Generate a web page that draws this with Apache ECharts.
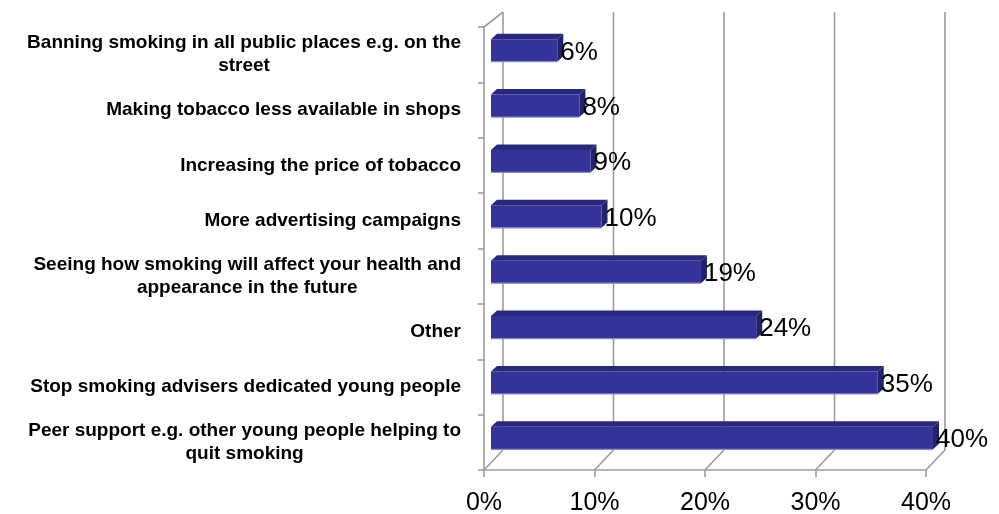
<!DOCTYPE html>
<html>
<head>
<meta charset="utf-8">
<script src="https://cdn.jsdelivr.net/npm/echarts@6.0.0/dist/echarts.min.js"></script>
<style>
  html, body { margin: 0; padding: 0; background: #ffffff; }
  #chart { width: 999px; height: 514px; }
</style>
</head>
<body>
<div id="chart"></div>
<script>
// Survey answers: what would help young people stop smoking
const categories = [
  'Banning smoking in all public places e.g. on the\nstreet',
  'Making tobacco less available in shops',
  'Increasing the price of tobacco',
  'More advertising campaigns',
  'Seeing how smoking will affect your health and\nappearance in the future',
  'Other',
  'Stop smoking advisers dedicated young people',
  'Peer support e.g. other young people helping to\nquit smoking'
];
const shares = [6, 8, 9, 10, 19, 24, 35, 40];
const xTicks = [0, 10, 20, 30, 40];

// pseudo-3D depth of the plot box (pixels)
const DEPTH_X = 19;
const DEPTH_Y_BOTTOM = -20;
const DEPTH_Y_TOP = -15;
// bar block offsets
const BAR_SHIFT_X = 7;
const BAR_DX = 6;
const BAR_DY = -5.5;

const FONT = '"Liberation Sans", Arial, sans-serif';
const wallStyle = { stroke: '#9c9c9c', lineWidth: 1.6, fill: null };

function renderWall(params, api) {
  const v = api.value(0);
  const cs = params.coordSys;
  const fx = api.coord([v, 0])[0];
  const bottom = cs.y + cs.height;
  const top = cs.y;
  const bx = fx + DEPTH_X;
  const children = [
    { type: 'line', shape: { x1: fx, y1: bottom, x2: bx, y2: bottom + DEPTH_Y_BOTTOM }, style: wallStyle },
    { type: 'line', shape: { x1: bx, y1: bottom + DEPTH_Y_BOTTOM, x2: bx, y2: top + DEPTH_Y_TOP }, style: wallStyle }
  ];
  if (v === xTicks[0]) {
    children.push({ type: 'line', shape: { x1: cs.x, y1: top, x2: bx, y2: top + DEPTH_Y_TOP }, style: wallStyle });
  }
  return { type: 'group', children };
}

function renderBar(params, api) {
  const v = api.value(0);
  const c = api.value(1);
  const start = api.coord([0, c]);
  const end = api.coord([v, c]);
  const cy = start[1];
  const L = start[0] + BAR_SHIFT_X;
  const R = end[0] + BAR_SHIFT_X;
  const T = cy - 15.5;
  const B = cy + 7;
  return {
    type: 'group',
    children: [
      { type: 'polygon', shape: { points: [[L, T], [L + BAR_DX, T + BAR_DY], [R + BAR_DX, T + BAR_DY], [R, T]] },
        style: { fill: '#28287a' } },
      { type: 'polygon', shape: { points: [[R, T], [R + BAR_DX, T + BAR_DY], [R + BAR_DX, B + BAR_DY], [R, B]] },
        style: { fill: '#222268' } },
      { type: 'rect', shape: { x: L, y: T, width: R - L, height: B - T },
        style: { fill: '#333399' } },
      { type: 'line', shape: { x1: L, y1: B, x2: R, y2: B },
        style: { stroke: '#8a8ac8', lineWidth: 1.2 } },
      { type: 'text', style: {
          text: v + '%', x: R + 3, y: (T + B) / 2 + 2,
          align: 'left', verticalAlign: 'middle',
          fontSize: 26, fontFamily: FONT, fill: '#000000'
        } }
    ]
  };
}

const chart = echarts.init(document.getElementById('chart'));
chart.setOption({
  backgroundColor: '#ffffff',
  animation: false,
  grid: { left: 484, top: 27, width: 442, height: 443, containLabel: false, outerBoundsMode: 'none' },
  xAxis: {
    type: 'value',
    min: 0, max: 40, interval: 10,
    splitLine: { show: false },
    axisLine: { show: true, lineStyle: { color: '#9c9c9c', width: 1.6 } },
    axisTick: { show: true, length: 7, lineStyle: { color: '#9c9c9c', width: 1.6 } },
    axisLabel: {
      formatter: '{value}%', fontSize: 25, color: '#000000', margin: 21,
      fontFamily: FONT
    }
  },
  yAxis: {
    type: 'category',
    inverse: true,
    data: categories,
    axisLine: { show: true, lineStyle: { color: '#9c9c9c', width: 1.6 } },
    axisTick: { show: true, length: 6, lineStyle: { color: '#9c9c9c', width: 1.6 } },
    splitLine: { show: false },
    axisLabel: {
      margin: 23,
      formatter: (val) => val.split('\n').map(s => '{c|' + s + '}').join('\n'),
      rich: {
        c: {
          align: 'center', fontSize: 19, lineHeight: 23, fontWeight: 'bold', color: '#000000',
          fontFamily: FONT
        }
      }
    }
  },
  series: [
    {
      type: 'custom',
      name: 'walls',
      silent: true,
      clip: false,
      z: 1,
      renderItem: renderWall,
      encode: { x: 0 },
      data: xTicks.map(t => [t])
    },
    {
      type: 'custom',
      name: 'share',
      clip: false,
      z: 3,
      renderItem: renderBar,
      encode: { x: 0, y: 1 },
      data: shares.map((v, i) => [v, i])
    }
  ]
});
</script>
</body>
</html>
